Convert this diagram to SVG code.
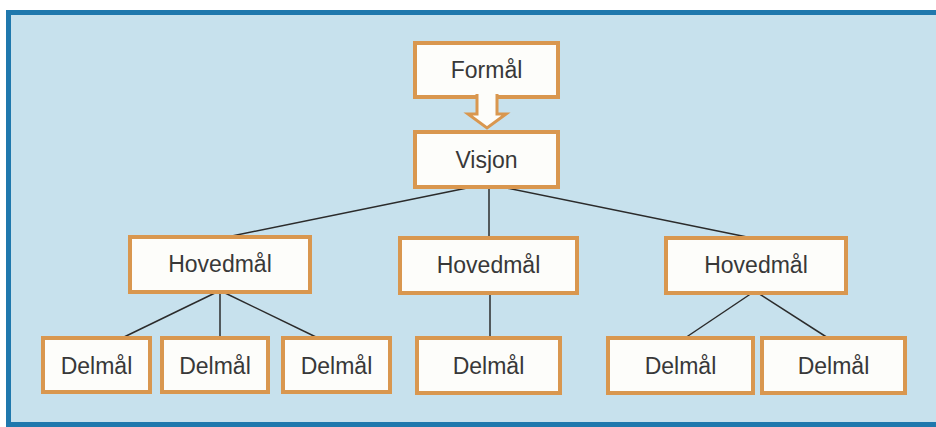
<svg xmlns="http://www.w3.org/2000/svg" width="936" height="427" viewBox="0 0 936 427">
<style>
.box{fill:#fdfdfa;stroke:#d9974f;stroke-width:4}
.lbl{font-family:"Liberation Sans",Arial,sans-serif;font-size:23px;fill:#383838;text-anchor:middle}
.con{stroke:#2b2b2b;stroke-width:1.5;fill:none}
</style>
<rect x="0" y="0" width="936" height="427" fill="#ffffff"/>
<rect id="panel" x="8.5" y="12.5" width="940" height="412" fill="#c7e1ed" stroke="#1f78ad" stroke-width="5"/>
<g id="connectors">
<line class="con" x1="472" y1="187" x2="227" y2="237"/>
<line class="con" x1="489" y1="187" x2="489" y2="238"/>
<line class="con" x1="502" y1="187" x2="752" y2="238"/>
<line class="con" x1="217" y1="292" x2="122" y2="338"/>
<line class="con" x1="220" y1="292" x2="220" y2="338"/>
<line class="con" x1="223" y1="292" x2="318" y2="338"/>
<line class="con" x1="490" y1="293" x2="490" y2="338"/>
<line class="con" x1="752" y1="293" x2="685" y2="338"/>
<line class="con" x1="758" y1="293" x2="828" y2="338"/>
</g>
<g id="formal">
<rect class="box" x="415" y="43" width="143" height="54"/>
<text class="lbl" x="486.5" y="78">Formål</text>
</g>
<g id="arrow">
<path d="M477,94 V114 H468 L487,128 L506,114 H497 V94" fill="#fdfdfa" stroke="#d9974f" stroke-width="3" stroke-linejoin="miter"/>
</g>
<g id="visjon">
<rect class="box" x="415" y="132" width="143" height="55"/>
<text class="lbl" x="486.5" y="168">Visjon</text>
</g>
<g id="hovedmal1">
<rect class="box" x="130" y="237" width="180" height="55"/>
<text class="lbl" x="220" y="272">Hovedmål</text>
</g>
<g id="hovedmal2">
<rect class="box" x="400" y="238" width="177" height="55"/>
<text class="lbl" x="488.5" y="273">Hovedmål</text>
</g>
<g id="hovedmal3">
<rect class="box" x="666" y="238" width="180" height="55"/>
<text class="lbl" x="756" y="273">Hovedmål</text>
</g>
<g id="delmal1">
<rect class="box" x="43" y="338" width="107" height="54"/>
<text class="lbl" x="96.5" y="374">Delmål</text>
</g>
<g id="delmal2">
<rect class="box" x="162" y="338" width="106" height="54"/>
<text class="lbl" x="215" y="374">Delmål</text>
</g>
<g id="delmal3">
<rect class="box" x="283" y="338" width="107" height="54"/>
<text class="lbl" x="336.5" y="374">Delmål</text>
</g>
<g id="delmal4">
<rect class="box" x="417" y="338" width="143" height="55"/>
<text class="lbl" x="488.5" y="374">Delmål</text>
</g>
<g id="delmal5">
<rect class="box" x="608" y="338" width="145" height="55"/>
<text class="lbl" x="680.5" y="374">Delmål</text>
</g>
<g id="delmal6">
<rect class="box" x="762" y="338" width="143" height="55"/>
<text class="lbl" x="833.5" y="374">Delmål</text>
</g>
</svg>
